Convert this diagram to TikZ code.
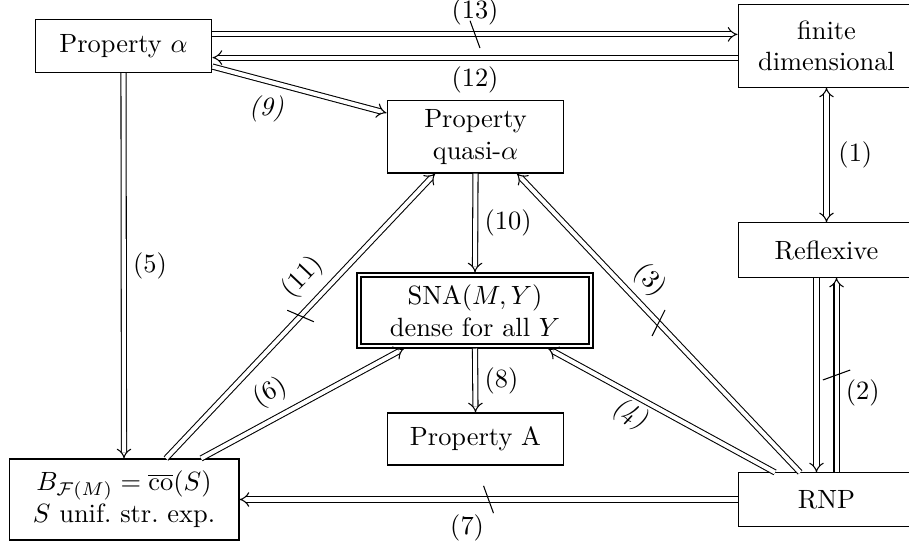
\documentclass[tikz,border=0pt]{standalone}
\usetikzlibrary{arrows.meta,calc}
\begin{document}
\begin{tikzpicture}[x=0.3788pt,y=-0.3788pt,
  box/.style={draw, minimum width=67pt, inner sep=2pt, align=center},
  dbl/.style={double, double equal sign distance, -{Implies}},
  dbltwo/.style={double, double equal sign distance, {Implies}-{Implies}},
  tickmark/.style={sloped, inner sep=0pt, outer sep=0pt, rotate=20}]
\useasboundingbox (0,0) rectangle (909,545);

\node[box, minimum height=20.1pt] (pa) at (123.5,46) {Property $\alpha$};
\node[box, minimum height=31.1pt] (fin) at (826.5,46) {finite\\dimensional};
\node[box, minimum height=27.3pt] (qa) at (475.5,137) {Property\\quasi-$\alpha$};
\node[box, minimum height=20.5pt] (refl) at (826.5,250) {Reflexive};
\node[box, minimum width=89.4pt, minimum height=28.4pt] (sna) at (475,310.5) {SNA$(M,Y)$\\dense for all $Y$};
\draw[line width=0.8pt] ([shift={(1.6pt,1.6pt)}]sna.south west) rectangle ([shift={(-1.6pt,-1.6pt)}]sna.north east);
\node[box, minimum height=19.7pt] (pA) at (475.5,439) {Property A};
\node[box, minimum width=87.1pt, minimum height=30.7pt] (bf) at (124,499.5) {$B_{\mathcal{F}(M)}=\overline{\mathrm{co}}(S)$\\$S$ unif.\ str.\ exp.};
\node[box, minimum height=20.1pt] (rnp) at (826.5,499.5) {RNP};

% (13) and (12)
\draw[dbl] ([yshift=4.4pt]pa.east) -- ([yshift=4.4pt]fin.west)
  node[midway, tickmark] {\rule[-5.5pt]{0.4pt}{11pt}}
  node[midway, above] {(13)};
\draw[dbl] ([yshift=-4.4pt]fin.west) -- ([yshift=-4.4pt]pa.east)
  node[midway, below] {(12)};
% (1)
\draw[dbltwo] (fin.south) -- (refl.north) node[midway, right=1pt] {(1)};
% (2)
\draw[dbl] ([xshift=-3.8pt]refl.south) -- ([xshift=-3.8pt]rnp.north);
\draw[dbl] ([xshift=3.8pt]rnp.north) -- ([xshift=3.8pt]refl.south)
  node[midway, tickmark] {\rule[-5.5pt]{0.4pt}{11pt}}
  node[pos=0.41, right] {(2)};
% (5)
\draw[dbl] (pa.south) -- (bf.north) node[midway, right] {(5)};
% (9)
\draw[dbl] ([yshift=-7.8pt]pa.east) -- ([yshift=9.1pt]qa.west)
  node[pos=0.31, below=2pt] {\textit{(9)}};
% (10)
\draw[dbl] (qa.south) -- (sna.north) node[midway, right] {(10)};
% (8)
\draw[dbl] (sna.south) -- (pA.north) node[midway, right] {(8)};
% (11)
\draw[dbl] ([xshift=15.9pt]bf.north) -- ([xshift=-15.3pt]qa.south)
  node[midway, tickmark] {\rule[-5.5pt]{0.4pt}{11pt}}
  node[pos=0.575, sloped, above=1pt] {(11)};
% (6)
\draw[dbl] ([xshift=29.2pt]bf.north) -- ([xshift=-26.9pt]sna.south)
  node[pos=0.4, sloped, above=1pt] {(6)};
% (3)
\draw[dbl] ([xshift=-10pt]rnp.north) -- ([xshift=15.7pt]qa.south)
  node[midway, tickmark] {\rule[-5.5pt]{0.4pt}{11pt}}
  node[pos=0.59, sloped, above=0pt] {(3)};
% (4)
\draw[dbl] ([xshift=-19.5pt]rnp.north) -- ([xshift=27.7pt]sna.south)
  node[pos=0.6, sloped, below=-1.5pt] {\textit{(4)}};
% (7)
\draw[dbl] (rnp.west) -- (bf.east)
  node[midway, tickmark] {\rule[-5.5pt]{0.4pt}{11pt}}
  node[pos=0.543, below=2.3pt] {(7)};
\end{tikzpicture}
\end{document}
